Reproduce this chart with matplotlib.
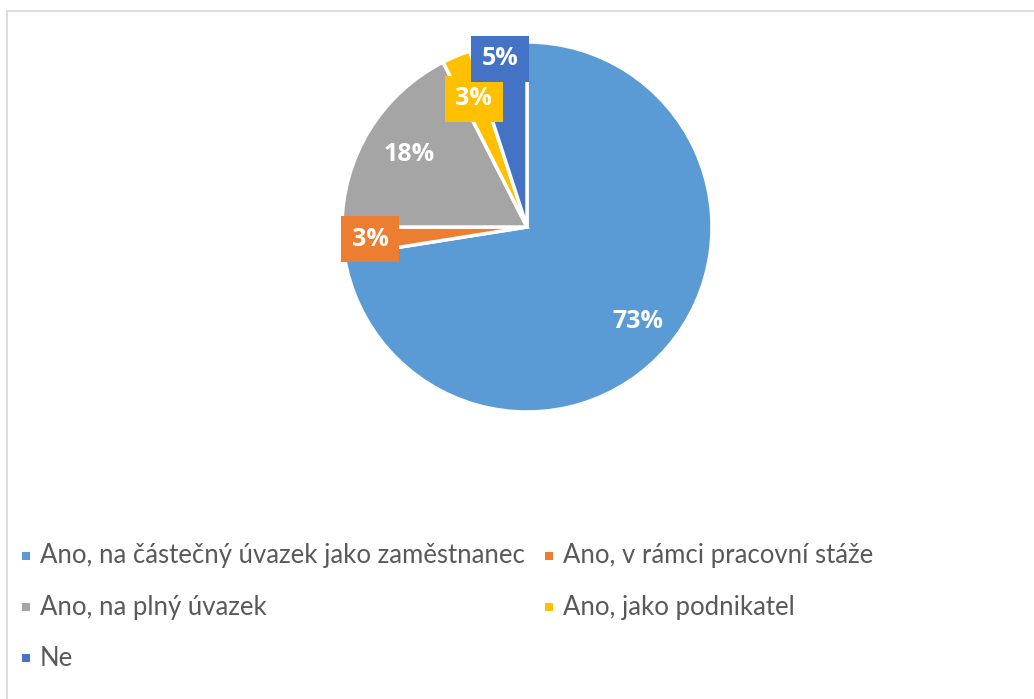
import matplotlib
matplotlib.use("Agg")
import matplotlib.pyplot as plt
import numpy as np
from matplotlib.patches import Rectangle

categories = ["Ano, na částečný úvazek jako zaměstnanec",
              "Ano, v rámci pracovní stáže",
              "Ano, na plný úvazek",
              "Ano, jako podnikatel",
              "Ne"]
counts = [29, 1, 7, 1, 2]
labels = ["73%", "3%", "18%", "3%", "5%"]
colors = ["#5B9BD5", "#ED7D31", "#A5A5A5", "#FFC000", "#4472C4"]
label_dist = [0.79, 0.85, 0.75, 0.75, 0.92]
boxed = [False, True, False, True, True]

W, H = 1034, 699
fig = plt.figure(figsize=(W/100, H/100), dpi=100)
fig.patch.set_facecolor("white")

# chart area border
fig.add_artist(Rectangle((6.5/W, -0.01), 1.1, 1 - 10.5/H + 0.01, transform=fig.transFigure,
                         fill=False, edgecolor="#D9D9D9", linewidth=1.3))

cx, cy, R = 527, 227, 185
ax = fig.add_axes([(cx-R)/W, (H-cy-R)/H, 2*R/W, 2*R/H])
wedges, _ = ax.pie(counts, colors=colors, startangle=90, counterclock=False,
                   wedgeprops=dict(edgecolor="white", linewidth=2.5))
ax.set_xlim(-1, 1)
ax.set_ylim(-1, 1)
ax.axis("off")

for w, lab, d, b, c in zip(wedges, labels, label_dist, boxed, colors):
    ang = np.deg2rad((w.theta1 + w.theta2) / 2)
    x, y = d*np.cos(ang), d*np.sin(ang)
    kw = {}
    if b:
        kw["bbox"] = dict(boxstyle="square,pad=0.42", facecolor=c, edgecolor="none")
    ax.text(x, y, lab, ha="center", va="center", color="white", fontsize=18,
            fontweight="bold", family="Open Sans", **kw)

# legend
rows_y = [556, 607, 658]
col_x = [22, 545]
for i, (cat, c) in enumerate(zip(categories, colors)):
    r, col = divmod(i, 2)
    mx = col_x[col]
    my = rows_y[r]
    fig.add_artist(Rectangle((mx/W, (H-my-4)/H), 8/W, 8/H, transform=fig.transFigure,
                             facecolor=c, edgecolor="none"))
    fig.text((mx+18)/W, (H-my)/H, cat, ha="left", va="center", color="#595959",
             fontsize=18.5, family="Lato")

fig.savefig("out.png", dpi=100, facecolor="white")
